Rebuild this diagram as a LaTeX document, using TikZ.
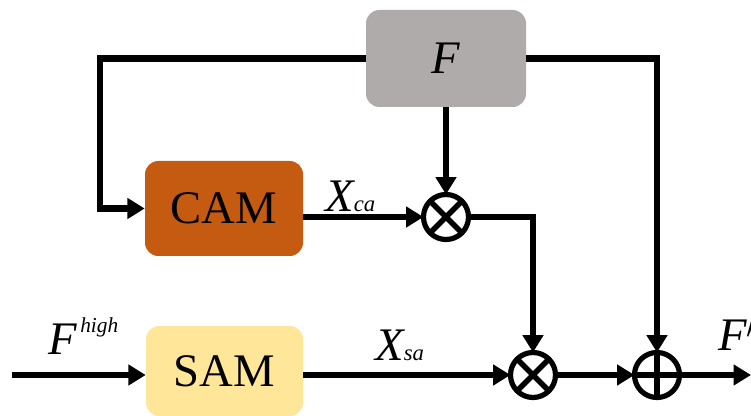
\documentclass[tikz,border=0pt]{standalone}
\usepackage{fontspec}
\setmainfont{Liberation Serif}
\usetikzlibrary{arrows.meta}
\definecolor{boxgray}{RGB}{175,171,171}
\definecolor{camorange}{RGB}{197,90,17}
\definecolor{samyellow}{RGB}{255,230,153}
\begin{document}
\begin{tikzpicture}[x=0.75pt,y=-0.75pt,
  wire/.style={line width=4.8pt,line cap=butt,line join=miter},
  arr/.style={wire,-{Triangle[length=13pt,width=15pt]}},
  block/.style={rounded corners=10pt,inner sep=0pt,outer sep=0pt},
  op/.style={circle,draw,line width=3.9pt,minimum size=33.75pt,inner sep=0pt,outer sep=0pt},
  cross/.style={line width=4.2pt},
  big/.style={font=\fontsize{35}{35}\selectfont},
  lbl/.style={inner sep=0pt,anchor=base west},
  small/.style={font=\fontsize{16}{16}\selectfont\itshape}]
\useasboundingbox (0,0) rectangle (751,416);

% blocks
\path[fill=boxgray,block] (366,10) rectangle (526,107);
\node[big] (F) at (446,58.5) [minimum width=120pt,minimum height=72.75pt] {\itshape F};
\path[fill=camorange,block] (145,161) rectangle (303,256);
\node[big] (CAM) at (224,208.5) [minimum width=118.5pt,minimum height=71.25pt] {CAM};
\path[fill=samyellow,block] (146,326) rectangle (303,416);
\node[big] (SAM) at (224.5,371) [minimum width=117.75pt,minimum height=67.5pt] {SAM};

% operators
\node[op] (m1) at (446,217) {};
\draw[cross] (m1.north west) -- (m1.south east) (m1.north east) -- (m1.south west);
\node[op] (m2) at (533,375) {};
\draw[cross] (m2.north west) -- (m2.south east) (m2.north east) -- (m2.south west);
\node[op] (add) at (657,375) {};
\draw[cross] (add.north) -- (add.south) (add.west) -- (add.east);

% free ends
\coordinate (tl) at (100,58.5);
\coordinate (in) at (12,375);
\coordinate (out) at (751,375);

% connectors
\draw[arr] (F.west) -- (tl) |- (CAM.west);
\draw[arr] (F.south) -- (m1.north);
\draw[arr] (CAM.east |- m1) -- (m1.west);
\draw[arr] (m1.east) -| (m2.north);
\draw[arr] (SAM.east |- m2) -- (m2.west);
\draw[arr] (m2.east) -- (add.west);
\draw[arr] (F.east) -| (add.north);
\draw[arr] (add.east) -- (out);
\draw[arr] (in) -- (SAM.west |- in);

% labels
\node[lbl,big] (xca) at (325,212) {\itshape X{\fontsize{17}{17}\selectfont ca}};
\node[lbl,big] (xsa) at (375,361) {\itshape X{\fontsize{17}{17}\selectfont sa}};
\node[lbl,big] (fhigh) at (48,355) {\itshape F};
\node[lbl,small] (hi) at (80,333) {high};
\node[lbl,big] (fout) at (718,351) {\itshape F$'$};
\end{tikzpicture}
\end{document}
